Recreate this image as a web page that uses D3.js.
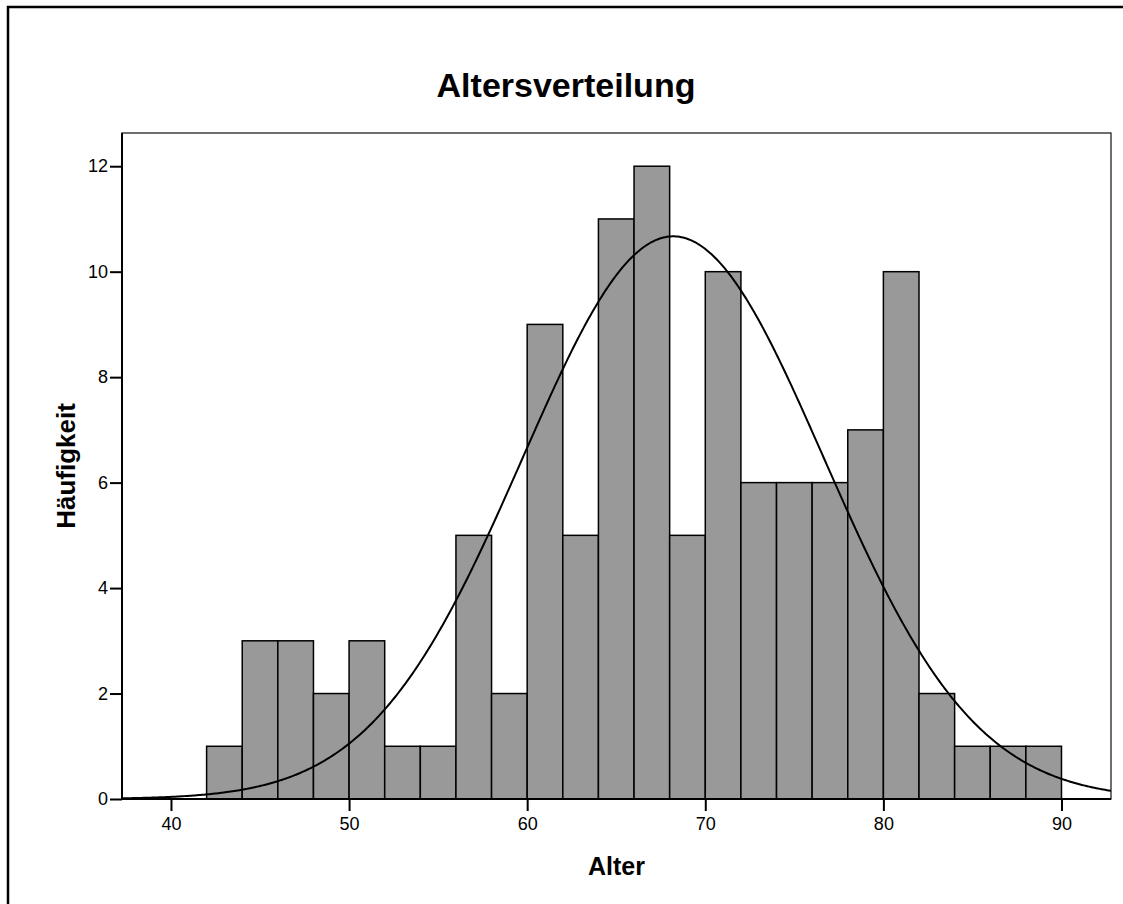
<!DOCTYPE html>
<html>
<head>
<meta charset="utf-8">
<script src="https://cdn.jsdelivr.net/npm/d3@7"></script>
<style>
  body { margin: 0; background: #fff; }
  svg { display: block; font-family: "Liberation Sans", Arial, sans-serif; }
</style>
</head>
<body>
<div id="chart"></div>
<script>
// histogram bins (Alter, width 2) and counts
var binStarts = [42,44,46,48,50,52,54,56,58,60,62,64,66,68,70,72,74,76,78,80,82,84,86,88];
var counts    = [1,3,3,2,3,1,1,5,2,9,5,11,12,5,10,6,6,6,7,10,2,1,1,1];
var binWidth = 2;
var xTicks = [40,50,60,70,80,90];
var yTicks = [0,2,4,6,8,10,12];
// fitted normal curve parameters (estimated from the drawn curve)
var mean = 68.2;
var sd = 8.45;
var N = d3.sum(counts);

var W = 1123, H = 904;
var pLeft = 122, pRight = 1111, pTop = 133, pBottom = 799;

var svg = d3.select('#chart').append('svg')
  .attr('width', W).attr('height', H);

// outer frame
svg.append('rect')
  .attr('x', 8).attr('y', 7)
  .attr('width', W + 20).attr('height', H + 20)
  .attr('fill', 'none').attr('stroke', '#000').attr('stroke-width', 2.5);

var x = d3.scaleLinear().domain([37.25, 92.78]).range([pLeft, pRight]);
var y = d3.scaleLinear().domain([0, 12.63]).range([pBottom, pTop]);

// plot frame
svg.append('rect')
  .attr('x', pLeft).attr('y', pTop)
  .attr('width', pRight - pLeft).attr('height', pBottom - pTop)
  .attr('fill', '#fff').attr('stroke', '#222').attr('stroke-width', 1.3);

// bars
svg.append('g').selectAll('rect')
  .data(binStarts)
  .enter().append('rect')
  .attr('x', d => x(d))
  .attr('y', (d, i) => y(counts[i]))
  .attr('width', d => x(d + binWidth) - x(d))
  .attr('height', (d, i) => y(0) - y(counts[i]))
  .attr('fill', '#999999')
  .attr('stroke', '#000')
  .attr('stroke-width', 1.5);

// normal curve
svg.append('clipPath').attr('id', 'clip')
  .append('rect').attr('x', pLeft).attr('y', pTop)
  .attr('width', pRight - pLeft).attr('height', pBottom - pTop);
var xs = d3.range(x.domain()[0], x.domain()[1] + 0.1, 0.1);
var pdf = v => N * binWidth / (sd * Math.sqrt(2 * Math.PI)) * Math.exp(-0.5 * Math.pow((v - mean) / sd, 2));
svg.append('path')
  .datum(xs)
  .attr('clip-path', 'url(#clip)')
  .attr('fill', 'none')
  .attr('stroke', '#000')
  .attr('stroke-width', 2)
  .attr('d', d3.line().x(d => x(d)).y(d => y(pdf(d))));

// axes
var xAxis = svg.append('g')
  .attr('transform', 'translate(0,' + pBottom + ')')
  .call(d3.axisBottom(x).tickValues(xTicks).tickSize(12).tickPadding(6).tickSizeOuter(0));
var yAxis = svg.append('g')
  .attr('transform', 'translate(' + pLeft + ',0)')
  .call(d3.axisLeft(y).tickValues(yTicks).tickSize(12).tickPadding(2).tickSizeOuter(0));
[xAxis, yAxis].forEach(a => {
  a.attr('font-size', 18).attr('font-family', '"Liberation Sans", Arial, sans-serif');
  a.select('.domain').remove();
  a.selectAll('line').attr('stroke', '#000').attr('stroke-width', 2);
  a.selectAll('text').attr('fill', '#000');
});
// axis lines
svg.append('line').attr('x1', pLeft).attr('x2', pRight).attr('y1', pBottom).attr('y2', pBottom)
  .attr('stroke', '#000').attr('stroke-width', 2);
svg.append('line').attr('x1', pLeft).attr('x2', pLeft).attr('y1', pTop).attr('y2', pBottom)
  .attr('stroke', '#000').attr('stroke-width', 2);

// titles
svg.append('text')
  .attr('x', 566).attr('y', 97)
  .attr('text-anchor', 'middle')
  .attr('font-weight', 'bold').attr('font-size', 34)
  .text('Altersverteilung');
svg.append('text')
  .attr('x', (pLeft + pRight) / 2).attr('y', 875)
  .attr('text-anchor', 'middle')
  .attr('font-weight', 'bold').attr('font-size', 25)
  .text('Alter');
svg.append('text')
  .attr('transform', 'translate(75,' + (pTop + pBottom) / 2 + ') rotate(-90)')
  .attr('text-anchor', 'middle')
  .attr('font-weight', 'bold').attr('font-size', 26)
  .text('Häufigkeit');
</script>
</body>
</html>
